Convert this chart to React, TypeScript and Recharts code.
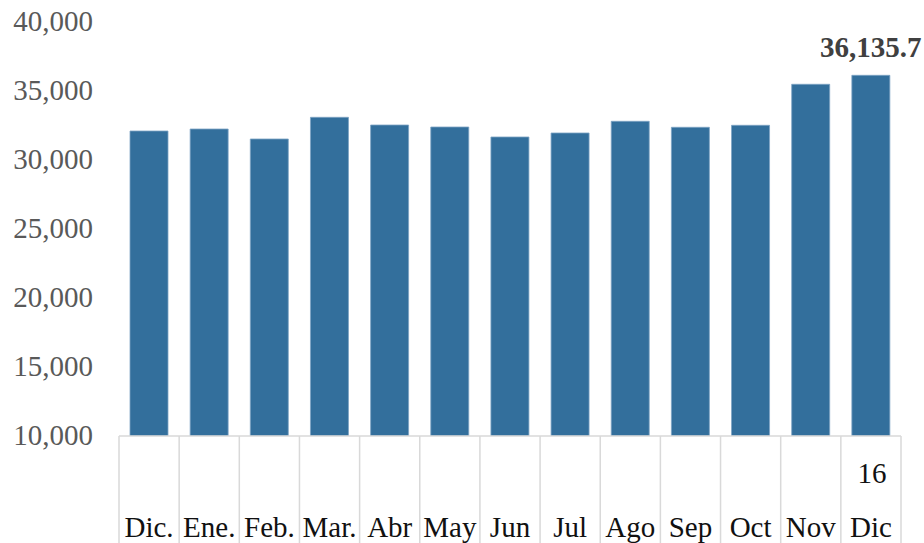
import { BarChart, Bar, XAxis, YAxis, LabelList } from "recharts";

const months = ["Dic.", "Ene.", "Feb.", "Mar.", "Abr", "May", "Jun", "Jul", "Ago", "Sep", "Oct", "Nov", "Dic"];
const years = ["", "", "", "", "", "", "", "", "", "", "", "", "16"];
const values = [32101, 32246, 31522, 33094, 32536, 32391, 31667, 31957, 32804, 32370, 32514, 35486, 36135.7];
const yTicks = [10000, 15000, 20000, 25000, 30000, 35000, 40000];

const W = 924;
const H = 543;
const LEFT = 119;
const RIGHT = 23;
const TOP = 22;
const BOTTOM = 107;
const band = (W - LEFT - RIGHT) / months.length;

const FONT = "'Liberation Serif', 'Times New Roman', serif";
const GRID = "#d9d9d9";

const data = months.map((m, i) => ({ month: m, year: years[i], value: values[i] }));

function MonthTick(props: any) {
  const { x, index } = props;
  const axisY = H - BOTTOM;
  const d = data[index];
  const left = x - band / 2;
  const last = index === data.length - 1;
  return (
    <g>
      <line x1={left} y1={axisY} x2={left} y2={H} stroke={GRID} strokeWidth={1.5} />
      {last && <line x1={left + band} y1={axisY} x2={left + band} y2={H} stroke={GRID} strokeWidth={1.5} />}
      {d.year && (
        <text x={x + 1} y={axisY + 47} textAnchor="middle" fontFamily={FONT} fontSize={29} fill="#111">
          {d.year}
        </text>
      )}
      <text x={x} y={axisY + 101} textAnchor="middle" fontFamily={FONT} fontSize={29} fill="#111">
        {d.month}
      </text>
    </g>
  );
}

function ValueTick(props: any) {
  const { y, payload } = props;
  return (
    <text x={93} y={y} dy={9} textAnchor="end" fontFamily={FONT} fontSize={29} fill="#595959">
      {payload.value.toLocaleString("en-US")}
    </text>
  );
}

function LastLabel(props: any) {
  const { x, y, width, index, value } = props;
  if (index !== data.length - 1) return null;
  return (
    <text x={x + width / 2} y={y - 18} textAnchor="middle" fontFamily={FONT} fontSize={29} fontWeight="bold" fill="#404040">
      {value.toLocaleString("en-US", { minimumFractionDigits: 1, maximumFractionDigits: 1 })}
    </text>
  );
}

export default function App() {
  return (
    <div style={{ position: "absolute", left: 0, top: 0, width: W, height: H, background: "#fff" }}>
      <BarChart width={W} height={H} data={data} margin={{ top: TOP, right: RIGHT, bottom: 0, left: 0 }} barCategoryGap={0}>
        <XAxis
          dataKey="month"
          height={BOTTOM}
          axisLine={{ stroke: GRID, strokeWidth: 1.5 }}
          tickLine={false}
          tick={<MonthTick />}
          interval={0}
        />
        <YAxis
          width={LEFT}
          domain={[10000, 40000]}
          ticks={yTicks}
          axisLine={false}
          tickLine={false}
          tick={<ValueTick />}
          allowDataOverflow
        />
        <Bar dataKey="value" fill="#336F9C" stroke="#7ea3c4" strokeWidth={0.8} barSize={38} isAnimationActive={false}>
          <LabelList dataKey="value" content={<LastLabel />} />
        </Bar>
      </BarChart>
    </div>
  );
}
